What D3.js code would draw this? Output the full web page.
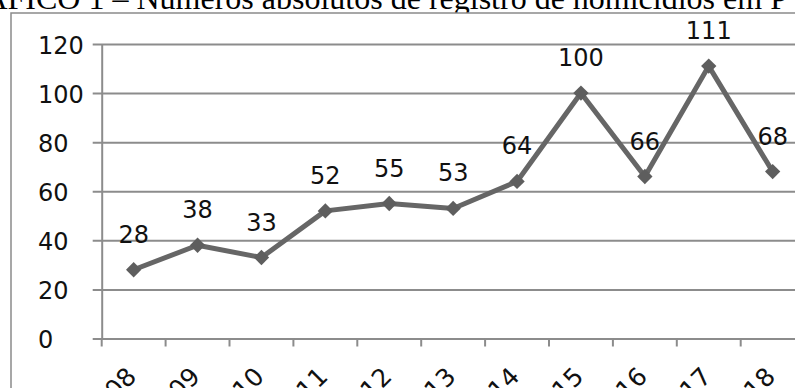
<!DOCTYPE html>
<html><head><meta charset="utf-8">
<script src="https://cdn.jsdelivr.net/npm/d3@7"></script>
<style>html,body{margin:0;padding:0;background:#fff;overflow:hidden}</style>
</head><body>
<svg id="c" width="795" height="388"></svg>
<script>
const years = ["2008","2009","2010","2011","2012","2013","2014","2015","2016","2017","2018"];
const values = [28,38,33,52,55,53,64,100,66,111,68];
const yTicks = [0,20,40,60,80,100,120];
const title = "GRÁFICO 1 – Números absolutos de registro de homicídios em P";

const svg = d3.select("#c");
svg.append("rect").attr("width",795).attr("height",388).attr("fill","#fff");

// title (only its lower part is visible)
svg.append("text").attr("x",-60).attr("y",9)
  .attr("font-family","'Liberation Serif','Times New Roman',serif")
  .attr("font-size",32).attr("fill","#000").text(title);

// outer chart border
svg.append("rect").attr("x",11).attr("y",13).attr("width",820).attr("height",420)
  .attr("fill","#fff").attr("stroke","#8a8a8a").attr("stroke-width",1.5);

const x = d3.scaleBand().domain(years).range([101.7, 101.7 + 11*63.9]).padding(0);
const y = d3.scaleLinear().domain([0,120]).range([338.5, 44]);

const font = "'DejaVu Sans',Verdana,sans-serif";
const gridColor = "#8c8c8c";

// y axis with gridlines
const yAxis = d3.axisLeft(y).tickValues(yTicks).tickSize(-(805-101.7)).tickSizeOuter(0).tickPadding(0);
const gy = svg.append("g").attr("transform","translate(101.7,0)").call(yAxis);
gy.select(".domain").attr("stroke",gridColor).attr("stroke-width",2);
gy.selectAll(".tick line").attr("stroke",gridColor).attr("stroke-width",2).attr("x1",-9);
gy.selectAll(".tick text").attr("x",38-101.7).attr("dy",null).attr("y",9)
  .attr("text-anchor","start").attr("font-family",font).attr("font-size",24).attr("fill","#111");

// x axis ticks at band boundaries
const bounds = years.map(d => x(d)).concat([x(years[years.length-1]) + x.bandwidth()]);
svg.append("g").selectAll("line").data(bounds).join("line")
  .attr("x1",d=>d).attr("x2",d=>d).attr("y1",y(0)).attr("y2",y(0)+8)
  .attr("stroke",gridColor).attr("stroke-width",2);

// x labels
svg.append("g").selectAll("text").data(years).join("text")
  .attr("transform",d=>`translate(${x(d)+x.bandwidth()/2+4},378) rotate(-45)`)
  .attr("text-anchor","end").attr("font-family",font).attr("font-size",25).attr("fill","#111")
  .text(d=>d);

// line
const cx = d => x(d) + x.bandwidth()/2;
const data = years.map((d,i)=>({year:d,v:values[i]}));
svg.append("path").datum(data)
  .attr("d", d3.line().x(d=>cx(d.year)).y(d=>y(d.v)))
  .attr("fill","none").attr("stroke","#666").attr("stroke-width",5).attr("stroke-linejoin","round");

// markers
svg.append("g").selectAll("path").data(data).join("path")
  .attr("d", d3.symbol(d3.symbolDiamond2, 150))
  .attr("transform", d=>`translate(${cx(d.year)},${y(d.v)})`)
  .attr("fill","#5e5e5e");

// data labels
svg.append("g").selectAll("text").data(data).join("text")
  .attr("x",d=>cx(d.year)).attr("y",d=>y(d.v)-27)
  .attr("text-anchor","middle").attr("font-family",font).attr("font-size",24).attr("fill","#111")
  .text(d=>d.v);
</script>
</body></html>
